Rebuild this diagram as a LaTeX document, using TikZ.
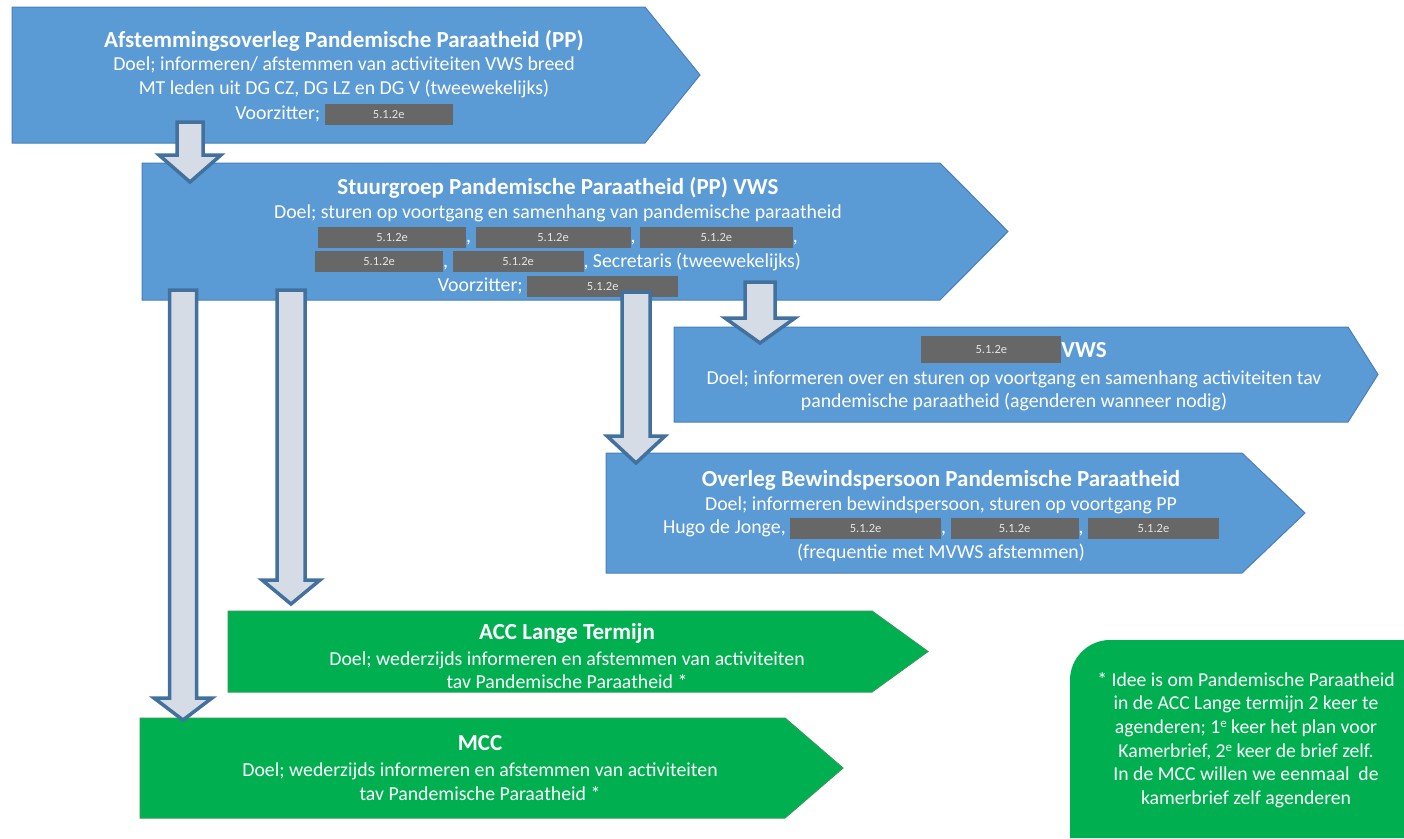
\documentclass[tikz,border=0pt]{standalone}
\usepackage{fontspec}
\setmainfont{Carlito}
\definecolor{bblue}{HTML}{5B9BD5}
\definecolor{bbord}{HTML}{4A7EBB}
\definecolor{ggreen}{HTML}{00B050}
\definecolor{gbord}{HTML}{2E9E55}
\definecolor{afill}{HTML}{D6DCE5}
\definecolor{abord}{HTML}{41719C}
\definecolor{rgray}{HTML}{676767}
\newcommand\rd[2][21]{\raisebox{-5pt}[0pt][0pt]{\setlength\fboxsep{0pt}\colorbox{rgray}{\parbox[b][#1pt][c]{#2pt}{\centering\fontsize{12.5}{12.5}\selectfont\color{white!90!black}5.1.2e}}}}
\newcommand\ttl{\fontsize{23}{27}\selectfont\bfseries}
\newcommand\chev[6]{\filldraw[#1] (#2,#3) -- (#4,#3) -- (#5,{(#3+#6)/2}) -- (#4,#6) -- (#2,#6) -- cycle;}
\newcommand\barrow[6]{\filldraw[blockarrow] ({#1-#5},#2) -- ({#1+#5},#2) -- ({#1+#5},#3) -- ({#1+#6},#3) -- (#1,#4) -- ({#1-#6},#3) -- ({#1-#5},#3) -- cycle;}
\tikzset{
  bluebox/.style={fill=bblue,draw=bbord,line width=1pt},
  greenbox/.style={fill=ggreen,draw=gbord,line width=1pt},
  blockarrow/.style={fill=afill,draw=abord,line width=3.5pt,line join=miter},
  txt/.style={text=white,align=center,inner sep=0pt,font=\fontsize{19.8}{23.5}\selectfont},
}
\begin{document}
\begin{tikzpicture}[x=1pt,y=-1pt]
\useasboundingbox (0,0) rectangle (1404,838);
\fill[white] (0,0) rectangle (1404,838);
% boxes
\chev{bluebox}{12}{7}{645}{700}{143}
\chev{bluebox}{142}{163}{940}{1008}{300}
\chev{bluebox}{674}{327}{1348}{1378}{422}
\chev{bluebox}{606}{453}{1242}{1305}{573}
\chev{greenbox}{228}{611}{872}{928}{692}
\chev{greenbox}{140}{718}{785}{843}{818}
\fill[ggreen] (1070,838) -- (1070,680) .. controls (1070,658) and (1088,640) .. (1110,640) -- (1404,640) -- (1404,838) -- cycle;
% texts
\node[txt] (t1) at (344,76) {{\ttl Afstemmingsoverleg Pandemische Paraatheid (PP)}\\ Doel; informeren/ afstemmen van activiteiten VWS breed\\ MT leden uit DG CZ, DG LZ en DG V (tweewekelijks)\\[2pt] Voorzitter; \rd{128}};
\node[txt] (t2) at (558,236) {{\ttl Stuurgroep Pandemische Paraatheid (PP) VWS}\\ Doel; sturen op voortgang en samenhang van pandemische paraatheid\\[1pt] \rd{148}, \rd{155}, \rd{153},\\[1pt] \rd{128}, \rd{131}, Secretaris (tweewekelijks)\\[1pt] Voorzitter; \rd{151}};
\node[txt] (t3) at (1014,377) {\rd[27]{140}{\ttl VWS}\\[3pt] Doel; informeren over en sturen op voortgang en samenhang activiteiten tav\\ pandemische paraatheid (agenderen wanneer nodig)};
\node[txt] (t4) at (941,516) {{\ttl Overleg Bewindspersoon Pandemische Paraatheid}\\ Doel; informeren bewindspersoon, sturen op voortgang PP\\ Hugo de Jonge, \rd{151}, \rd{128}, \rd{131}\\[1pt] (frequentie met MVWS afstemmen)};
\node[txt] (t5) at (567,656) {{\ttl ACC Lange Termijn}\\[2pt] Doel; wederzijds informeren en afstemmen van activiteiten\\ tav Pandemische Paraatheid *};
\node[txt] (t6) at (480,768) {{\ttl MCC}\\[3pt] Doel; wederzijds informeren en afstemmen van activiteiten\\ tav Pandemische Paraatheid *};
\node[txt,font=\fontsize{19.7}{23.6}\selectfont] (t7) at (1246,740) {* Idee is om Pandemische Paraatheid\\ in de ACC Lange termijn 2 keer te\\ agenderen; 1{\fontsize{13}{13}\selectfont\raisebox{6pt}{e}} keer het plan voor\\ Kamerbrief, 2{\fontsize{13}{13}\selectfont\raisebox{6pt}{e}} keer de brief zelf.\\ In de MCC willen we eenmaal\ \ de\\ kamerbrief zelf agenderen};
% block arrows
\barrow{190}{122}{155}{182}{13}{31}
\barrow{183}{290}{698}{720}{13.5}{29}
\barrow{291}{290}{580}{604}{14}{29}
\barrow{636}{292}{436}{463}{14}{29}
\barrow{760}{282}{318}{343}{15}{35}
\end{tikzpicture}
\end{document}
